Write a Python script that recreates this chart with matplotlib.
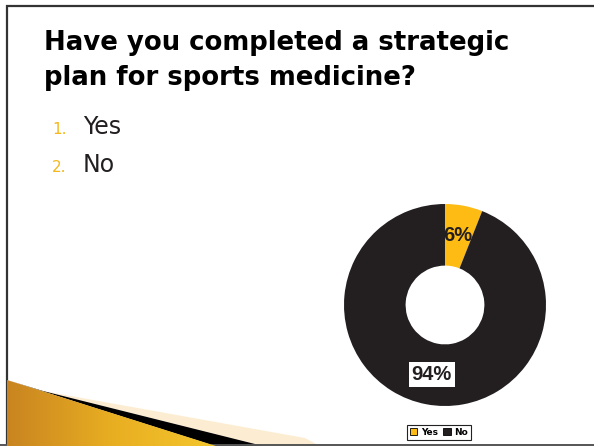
import numpy as np
import matplotlib
matplotlib.use('Agg')
import matplotlib.pyplot as plt
from matplotlib.patches import Polygon
from matplotlib import font_manager

# Poll answers
choices = ['Yes', 'No']
shares = [6, 94]
slice_colors = ['#FDBB14', '#231F20']

question = ['Have you completed a strategic', 'plan for sports medicine?']

W, H = 594, 447
GOLD = '#F4B81C'
INK = '#231F20'

names = {f.name for f in font_manager.fontManager.ttflist}
narrow = 'Liberation Sans Narrow' if 'Liberation Sans Narrow' in names else 'Liberation Sans'

fig = plt.figure(figsize=(W / 100, H / 100), dpi=100)
fig.patch.set_facecolor('white')

# full-slide layer in pixel units
bg = fig.add_axes([0, 0, 1, 1])
bg.set_xlim(0, W)
bg.set_ylim(H, 0)
bg.axis('off')

# slide frame
bg.plot([6, W], [5.5, 5.5], color='#333333', lw=1.6, solid_capstyle='butt')
bg.plot([6.5, 6.5], [5, 445], color='#333333', lw=1.6, solid_capstyle='butt')
bg.plot([0, W], [445, 445], color='#555555', lw=1.4)

# gold swoosh in the lower left corner
shadow = Polygon([[43, 391], [305, 438], [320, 446], [263, 446]], closed=True,
                 facecolor='#FCE6C0', edgecolor='none', alpha=0.7)
bg.add_patch(shadow)
stripe = Polygon([[7, 380], [43, 391], [263, 446], [215, 446]],
                 closed=True, facecolor='black', edgecolor='none')
bg.add_patch(stripe)
wedge_poly = Polygon([[7, 380], [216, 446], [7, 446]], closed=True,
                     facecolor='none', edgecolor='none')
bg.add_patch(wedge_poly)
grad = np.linspace(0, 1, 256).reshape(1, -1)
cmap = matplotlib.colors.LinearSegmentedColormap.from_list(
    'gold', ['#C98420', '#E8AE22', '#F4C62C'])
img = bg.imshow(grad, cmap=cmap, extent=[7, 216, 446, 380], aspect='auto',
                zorder=2)
img.set_clip_path(wedge_poly)
bg.set_xlim(0, W)
bg.set_ylim(H, 0)

# question text
for k, line in enumerate(question):
    bg.text(44, 50 + 35 * k, line, fontsize=18.7, fontweight='bold',
            color='black', family='DejaVu Sans', va='baseline')

# numbered answer list
for i, label in enumerate(choices):
    y = 134 + 38 * i
    bg.text(52, y, f'{i + 1}.', fontsize=11, color=GOLD, va='baseline')
    bg.text(83, y, label, fontsize=17, color=INK, va='baseline')

# donut
cx, cy, r = 445, 305, 101
ax = fig.add_axes([(cx - r) / W, (H - cy - r) / H, 2 * r / W, 2 * r / H])
wedges, _, pct = ax.pie(shares, colors=slice_colors, startangle=90,
                        counterclock=False, radius=1,
                        wedgeprops=dict(width=0.61, edgecolor='none'),
                        autopct='%d%%', pctdistance=0.7,
                        textprops=dict(fontsize=14.5, fontweight='bold',
                                       color=INK, family=narrow))
pct[1].set_bbox(dict(facecolor='white', edgecolor='none', pad=2))
ax.set_xlim(-1, 1)
ax.set_ylim(-1, 1)
ax.set_aspect('equal')

leg = fig.legend(wedges, choices, loc='center', ncol=2,
                 bbox_to_anchor=(439 / W, 1 - 432.5 / H),
                 prop=dict(size=6.5, weight='bold', family='DejaVu Sans'),
                 handlelength=0.8, handleheight=0.8, handletextpad=0.4,
                 columnspacing=0.6, borderpad=0.35, fancybox=False,
                 frameon=True, edgecolor='#222222', framealpha=1)
leg.get_frame().set_linewidth(0.8)
for h in leg.legend_handles:
    h.set_edgecolor('black')
    h.set_linewidth(0.6)

fig.savefig('out.png', dpi=100, facecolor='white')
